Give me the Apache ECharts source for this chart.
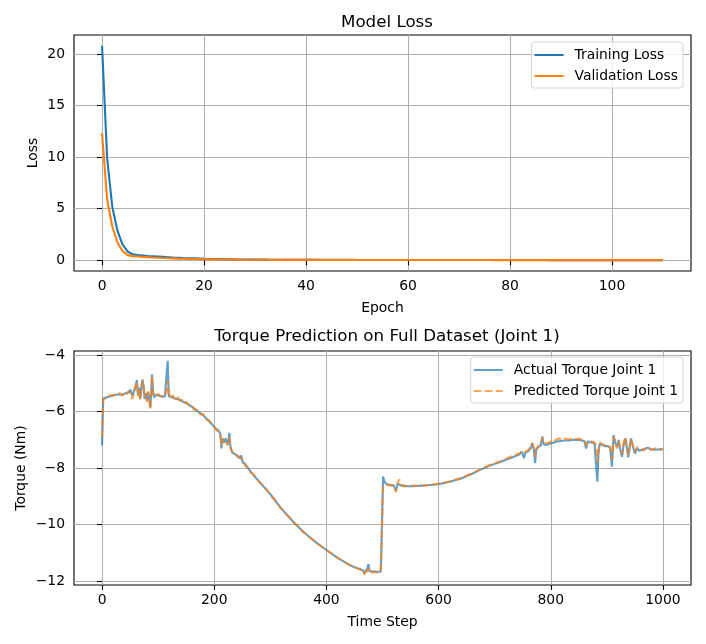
<!DOCTYPE html>
<html>
<head>
<meta charset="utf-8">
<script src="https://cdn.jsdelivr.net/npm/echarts@6/dist/echarts.min.js"></script>
<style>
  html, body { margin: 0; padding: 0; background: #fff; }
  #main { width: 706px; height: 644px; }
</style>
</head>
<body>
<div id="main"></div>
<script>
// loss per epoch, epochs 0..110
var trainLoss = [
  20.8, 9.9, 5.2, 2.9, 1.55, 0.85, 0.58, 0.5, 0.46, 0.42,
  0.39, 0.36, 0.33, 0.3, 0.27, 0.25, 0.22, 0.2, 0.18, 0.16,
  0.14, 0.13, 0.12, 0.11, 0.1, 0.09, 0.085, 0.08, 0.075, 0.07,
  0.065, 0.06, 0.058, 0.055, 0.052, 0.05, 0.048, 0.046, 0.044, 0.043,
  0.042, 0.041, 0.04, 0.039, 0.038, 0.037, 0.036, 0.035, 0.035, 0.034,
  0.033, 0.033, 0.032, 0.031, 0.031, 0.03, 0.03, 0.029, 0.029, 0.028,
  0.028, 0.027, 0.027, 0.026, 0.026, 0.026, 0.025, 0.025, 0.025, 0.024,
  0.024, 0.024, 0.023, 0.023, 0.023, 0.022, 0.022, 0.022, 0.022, 0.021,
  0.021, 0.021, 0.021, 0.02, 0.02, 0.02, 0.02, 0.02, 0.019, 0.019,
  0.019, 0.019, 0.019, 0.018, 0.018, 0.018, 0.018, 0.018, 0.018, 0.017,
  0.017, 0.017, 0.017, 0.017, 0.017, 0.016, 0.016, 0.016, 0.016, 0.016, 0.016
];
var valLoss = [
  12.3, 5.9, 3.3, 1.75, 0.9, 0.5, 0.4, 0.36, 0.33, 0.3,
  0.27, 0.25, 0.22, 0.2, 0.18, 0.16, 0.15, 0.13, 0.12, 0.11,
  0.1, 0.09, 0.085, 0.08, 0.075, 0.07, 0.065, 0.06, 0.057, 0.054,
  0.051, 0.049, 0.047, 0.045, 0.043, 0.041, 0.04, 0.039, 0.038, 0.037,
  0.036, 0.035, 0.034, 0.033, 0.032, 0.031, 0.031, 0.03, 0.03, 0.029,
  0.029, 0.028, 0.028, 0.027, 0.027, 0.026, 0.026, 0.025, 0.025, 0.025,
  0.024, 0.024, 0.024, 0.023, 0.023, 0.023, 0.022, 0.022, 0.022, 0.021,
  0.021, 0.021, 0.021, 0.02, 0.02, 0.02, 0.02, 0.019, 0.019, 0.019,
  0.019, 0.019, 0.018, 0.018, 0.018, 0.018, 0.018, 0.017, 0.017, 0.017,
  0.017, 0.017, 0.017, 0.016, 0.016, 0.016, 0.016, 0.016, 0.016, 0.015,
  0.015, 0.015, 0.015, 0.015, 0.015, 0.015, 0.014, 0.014, 0.014, 0.014, 0.014
];

// torque, sampled at these time steps
var steps = [
  0, 2, 5, 10, 15, 20, 25, 28, 32, 36, 40, 44, 48, 51, 54, 57, 60, 62, 64, 66,
  68, 70, 72, 74, 76, 78, 80, 82, 84, 86, 88, 89, 91, 93, 96, 100, 104, 108, 112, 115,
  117, 119, 122, 126, 130, 134, 138, 142, 146, 150, 155, 160, 165, 170, 175, 180, 185, 190, 195, 200,
  204, 208, 211, 213, 215, 218, 220, 224, 227, 229, 232, 235, 238, 241, 245, 248, 251, 255, 260, 265,
  270, 280, 290, 300, 320, 340, 360, 380, 400, 420, 440, 455, 465, 468, 470, 473, 475, 477, 480, 485,
  490, 497, 499, 501, 503, 506, 510, 515, 520, 524, 527, 530, 533, 538, 545, 555, 570, 585, 600, 620,
  640, 660, 672, 690, 710, 720, 731, 738, 744, 749, 752, 755, 760, 764, 767, 770, 772, 774, 778, 782,
  785, 787, 791, 796, 800, 805, 810, 815, 820, 826, 832, 838, 845, 850, 856, 860, 863, 866, 870, 874,
  878, 881, 883, 885, 887, 892, 897, 902, 906, 909, 912, 915, 918, 921, 924, 927, 930, 933, 936, 938,
  941, 943, 946, 950, 954, 958, 962, 966, 970, 974, 978, 982, 986, 990, 995, 1000
];
var actualTorque = [
  -7.2, -5.55, -5.5, -5.48, -5.45, -5.42, -5.4, -5.44, -5.38, -5.4, -5.36, -5.34, -5.3, -5.22, -5.45, -5.28, -5.1, -4.88, -5.4, -5.15,
  -5.55, -5.2, -4.86, -5.1, -5.55, -5.35, -5.6, -5.3, -5.5, -5.85, -5.2, -4.68, -5.3, -5.5, -5.4, -5.42, -5.45, -5.45, -5.47, -5.4,
  -4.2, -5.45, -5.5, -5.5, -5.53, -5.55, -5.58, -5.62, -5.66, -5.7, -5.76, -5.82, -5.9, -5.98, -6.05, -6.12, -6.22, -6.32, -6.42, -6.55,
  -6.62, -6.68, -6.8, -7.3, -6.95, -7.1, -6.95, -7.15, -6.75, -7.25, -7.45, -7.4, -7.52, -7.48, -7.65, -7.55, -7.8, -7.85, -8.0, -8.12,
  -8.25, -8.47, -8.7, -8.92, -9.44, -9.88, -10.28, -10.61, -10.9, -11.18, -11.42, -11.55, -11.62, -11.72, -11.65, -11.55, -11.4, -11.65, -11.67, -11.66,
  -11.67, -11.67, -11.6, -8.3, -8.45, -8.55, -8.58, -8.6, -8.62, -8.8, -8.55, -8.5, -8.62, -8.62, -8.64, -8.64, -8.62, -8.6, -8.57, -8.48,
  -8.37, -8.2, -8.08, -7.92, -7.78, -7.7, -7.62, -7.56, -7.52, -7.42, -7.65, -7.45, -7.4, -7.3, -7.12, -7.35, -7.82, -7.35, -7.25, -7.2,
  -6.88, -7.15, -7.18, -7.15, -7.12, -7.1, -7.05, -7.05, -7.03, -7.02, -7.02, -7.0, -7.0, -7.0, -7.02, -7.05, -7.3, -7.05, -7.08, -7.1,
  -7.12, -7.15, -8.48, -7.5, -7.15, -7.18, -7.22, -7.22, -7.3, -7.95, -6.83, -7.1, -7.25, -7.0, -7.35, -7.6, -7.15, -6.95, -7.3, -7.62,
  -7.2, -6.95, -7.2, -7.48, -7.3, -7.38, -7.36, -7.33, -7.3, -7.28, -7.35, -7.33, -7.35, -7.34, -7.33, -7.34
];
var predictedTorque = [
  -6.9, -5.6, -5.5, -5.45, -5.42, -5.44, -5.36, -5.4, -5.35, -5.44, -5.33, -5.38, -5.26, -5.2, -5.55, -5.3, -5.05, -4.95, -5.45, -5.2,
  -5.6, -5.15, -4.9, -5.05, -5.5, -5.35, -5.65, -5.28, -5.55, -5.92, -5.25, -4.75, -5.35, -5.45, -5.42, -5.38, -5.44, -5.48, -5.45, -5.3,
  -4.9, -5.35, -5.52, -5.42, -5.55, -5.45, -5.6, -5.58, -5.7, -5.65, -5.78, -5.78, -5.95, -5.92, -6.1, -6.08, -6.28, -6.3, -6.45, -6.52,
  -6.66, -6.7, -6.85, -7.2, -7.0, -7.05, -7.0, -7.2, -6.9, -7.3, -7.35, -7.5, -7.45, -7.55, -7.6, -7.6, -7.75, -7.9, -7.98, -8.15,
  -8.22, -8.48, -8.68, -8.93, -9.44, -9.88, -10.28, -10.61, -10.9, -11.18, -11.42, -11.55, -11.62, -11.78, -11.6, -11.7, -11.55, -11.72, -11.7, -11.68,
  -11.7, -11.68, -11.65, -8.65, -8.6, -8.62, -8.6, -8.62, -8.6, -8.85, -8.5, -8.4, -8.58, -8.65, -8.63, -8.62, -8.63, -8.58, -8.55, -8.47,
  -8.35, -8.18, -8.06, -7.9, -7.76, -7.67, -7.58, -7.52, -7.48, -7.38, -7.45, -7.42, -7.35, -7.28, -7.1, -7.3, -7.6, -7.3, -7.22, -7.15,
  -6.92, -7.1, -7.12, -7.1, -7.05, -7.08, -6.98, -6.95, -7.0, -6.95, -6.98, -6.95, -6.98, -6.95, -7.0, -7.02, -7.2, -7.1, -7.05, -7.05,
  -7.1, -7.2, -7.8, -7.4, -7.1, -7.15, -7.2, -7.18, -7.25, -7.7, -6.9, -7.05, -7.3, -7.05, -7.3, -7.5, -7.1, -6.9, -7.25, -7.55,
  -7.25, -7.0, -7.15, -7.42, -7.25, -7.3, -7.33, -7.38, -7.28, -7.25, -7.32, -7.35, -7.3, -7.32, -7.31, -7.33
];

var epochTicks = [0, 20, 40, 60, 80, 100];
var lossTicks = [0, 5, 10, 15, 20];
var stepTicks = [0, 200, 400, 600, 800, 1000];
var torqueTicks = [-12, -10, -8, -6, -4];

function pairs(xs, ys) {
  var out = [];
  for (var i = 0; i < ys.length; i++) {
    out.push([xs[i], ys[i]]);
  }
  return out;
}
var epochs = [];
for (var i = 0; i < trainLoss.length; i++) epochs.push(i);

var font = 'DejaVu Sans';
var txt = { fontFamily: font, fontSize: 13.9, color: '#000' };

// plain numbers, with a real minus sign like matplotlib
function tickText(v) {
  return String(v).replace('-', '\u2212');
}

function xAxisOf(grid, min, max, ticks, name) {
  return {
    type: 'value', gridIndex: grid, min: min, max: max,
    name: name, nameLocation: 'middle', nameGap: 30,
    nameTextStyle: txt,
    axisLine: { show: false },
    axisTick: { show: true, length: 5, customValues: ticks, lineStyle: { color: '#000', width: 1.1 } },
    axisLabel: Object.assign({ customValues: ticks, margin: 8, formatter: tickText }, txt),
    splitLine: { show: true, lineStyle: { color: '#b0b0b0', width: 1.1 } }
  };
}
function yAxisOf(grid, min, max, ticks, name, gap) {
  return {
    type: 'value', gridIndex: grid, min: min, max: max,
    name: name, nameLocation: 'middle', nameGap: gap, nameRotate: 90,
    nameMoveOverlap: false,
    nameTextStyle: txt,
    axisLine: { show: false },
    axisTick: { show: true, length: 5, customValues: ticks, lineStyle: { color: '#000', width: 1.1 } },
    axisLabel: Object.assign({ customValues: ticks, margin: 9, formatter: tickText }, txt),
    splitLine: { show: true, lineStyle: { color: '#b0b0b0', width: 1.1 } }
  };
}

function legendOf(names, top) {
  return {
    data: names, orient: 'vertical', right: 23, top: top,
    itemWidth: 29, itemHeight: 14, itemGap: 7, padding: [6, 5, 5, 2],
    itemStyle: { opacity: 0 },
    backgroundColor: 'rgba(255,255,255,0.8)', borderColor: '#d6d6d6', borderWidth: 1, borderRadius: 3,
    textStyle: Object.assign({ padding: [0, 0, 0, 6] }, txt)
  };
}

var chart = echarts.init(document.getElementById('main'));
chart.setOption({
  animation: false,
  backgroundColor: '#fff',
  title: [
    { text: 'Model Loss', left: 382, top: 9, textAlign: 'center',
      textStyle: { fontFamily: font, fontSize: 16.7, fontWeight: 'normal', color: '#000' } },
    { text: 'Torque Prediction on Full Dataset (Joint 1)', left: 382, top: 323, textAlign: 'center',
      textStyle: { fontFamily: font, fontSize: 16.7, fontWeight: 'normal', color: '#000' } }
  ],
  grid: [
    { left: 74, right: 15, top: 35, height: 236, show: true, borderColor: '#000', borderWidth: 1.1 },
    { left: 74, right: 15, top: 351, height: 234, show: true, borderColor: '#000', borderWidth: 1.1 }
  ],
  legend: [
    legendOf(['Training Loss', 'Validation Loss'], 42),
    legendOf(['Actual Torque Joint 1', 'Predicted Torque Joint 1'], 357)
  ],
  xAxis: [
    xAxisOf(0, -5.5, 115.5, epochTicks, 'Epoch'),
    xAxisOf(1, -50, 1050, stepTicks, 'Time Step')
  ],
  yAxis: [
    yAxisOf(0, -1.04, 21.84, lossTicks, 'Loss', 34),
    yAxisOf(1, -12.14, -3.85, torqueTicks, 'Torque (Nm)', 46)
  ],
  series: [
    { name: 'Training Loss', type: 'line', xAxisIndex: 0, yAxisIndex: 0,
      data: pairs(epochs, trainLoss), symbol: 'none', showSymbol: false,
      lineStyle: { color: '#1f77b4', width: 2.1 }, itemStyle: { color: '#1f77b4' } },
    { name: 'Validation Loss', type: 'line', xAxisIndex: 0, yAxisIndex: 0,
      data: pairs(epochs, valLoss), symbol: 'none', showSymbol: false,
      lineStyle: { color: '#ff7f0e', width: 2.1 }, itemStyle: { color: '#ff7f0e' } },
    { name: 'Actual Torque Joint 1', type: 'line', xAxisIndex: 1, yAxisIndex: 1,
      data: pairs(steps, actualTorque), symbol: 'none', showSymbol: false,
      lineStyle: { color: '#1f77b4', width: 2.1, opacity: 0.7 }, itemStyle: { color: '#1f77b4', opacity: 0.7 } },
    { name: 'Predicted Torque Joint 1', type: 'line', xAxisIndex: 1, yAxisIndex: 1,
      data: pairs(steps, predictedTorque), symbol: 'none', showSymbol: false,
      lineStyle: { color: '#ff7f0e', width: 2.1, opacity: 0.7, type: [7.7, 3.3] }, itemStyle: { color: '#ff7f0e', opacity: 0.7 } }
  ]
});
</script>
</body>
</html>
